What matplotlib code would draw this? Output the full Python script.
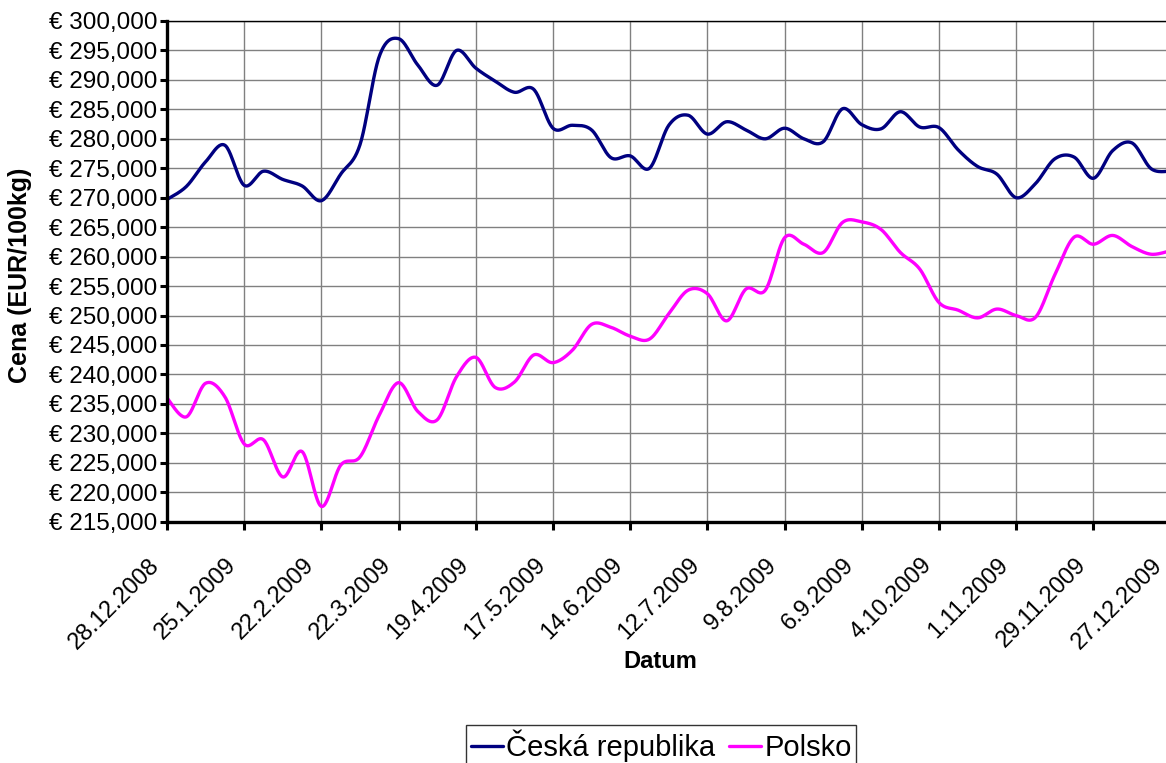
import numpy as np
import pandas as pd
import matplotlib
matplotlib.use('Agg')
import matplotlib.pyplot as plt
import matplotlib.dates as mdates
from matplotlib.ticker import FuncFormatter, FixedLocator
from matplotlib.transforms import ScaledTranslation

plt.rcParams['font.family'] = ['Liberation Sans', 'DejaVu Sans']

# data (weekly)
dates = pd.date_range('2008-12-28', periods=53, freq='7D')
cz = [269700, 271900, 276100, 278900, 272100, 274500, 273100, 272000, 269500, 274000,
      279000, 294000, 297000, 292500, 289100, 295000, 292000, 289800, 287900, 288400,
      281800, 282300, 281500, 276800, 277100, 275000, 282300, 284000, 280800, 282900,
      281500, 280000, 281800, 280000, 279500, 285100, 282400, 281700, 284600, 282000,
      281900, 278100, 275300, 274000, 270000, 272400, 276600, 276900, 273300, 278000,
      279300, 274900, 274500]
pl = [236000, 232800, 238500, 236200, 228200, 228900, 222600, 226900, 217600, 224600,
      226000, 233100, 238600, 233700, 232300, 239600, 242900, 237800, 238700, 243300,
      242000, 244100, 248500, 248000, 246500, 246000, 250300, 254300, 253700, 249100,
      254500, 254300, 263200, 262100, 260700, 265800, 265900, 264600, 260700, 257900,
      252200, 250900, 249600, 251100, 250000, 249700, 256900, 263300, 262100, 263600,
      261700, 260400, 261000]
series_names = ['Česká republika', 'Polsko']
series_colors = ['#000080', '#FF00FF']


def smooth(x, y, n=24):
    # excel-like smoothed line (bezier through the points)
    x = np.asarray(x, float)
    y = np.asarray(y, float)
    px, py = [], []
    t = np.linspace(0, 1, n, endpoint=False)
    for i in range(len(x) - 1):
        i0 = max(i - 1, 0)
        i3 = min(i + 2, len(x) - 1)
        c1x = x[i] + (x[i + 1] - x[i0]) / 6
        c1y = y[i] + (y[i + 1] - y[i0]) / 6
        c2x = x[i + 1] - (x[i3] - x[i]) / 6
        c2y = y[i + 1] - (y[i3] - y[i]) / 6
        a, b, c, d = (1 - t) ** 3, 3 * (1 - t) ** 2 * t, 3 * (1 - t) * t ** 2, t ** 3
        px.append(a * x[i] + b * c1x + c * c2x + d * x[i + 1])
        py.append(a * y[i] + b * c1y + c * c2y + d * y[i + 1])
    px.append([x[-1]])
    py.append([y[-1]])
    return np.concatenate(px), np.concatenate(py)


fig = plt.figure(figsize=(11.66, 7.63), dpi=100)
ax = fig.add_axes([0.14322, 0.31625, 0.86072, 0.65623])

xnum = mdates.date2num(dates)
for vals, name, col in zip([cz, pl], series_names, series_colors):
    sx, sy = smooth(xnum, vals)
    ax.plot(sx, sy, color=col, lw=2.4, label=name, solid_capstyle='round')

ax.set_xlim(xnum[0], xnum[-1])
ax.set_ylim(215000, 300000)
ax.set_yticks(np.arange(215000, 300001, 5000))
ax.yaxis.set_major_formatter(FuncFormatter(lambda v, p: f'€ {v:,.0f}'))
ax.xaxis.set_major_locator(FixedLocator(xnum[::4]))
ax.xaxis.set_major_formatter(FuncFormatter(
    lambda v, p: '{0.day}.{0.month}.{0.year}'.format(mdates.num2date(v))))

ax.grid(True, color='#808080', lw=1.0)
ax.set_axisbelow(True)
for s in ['left', 'bottom']:
    ax.spines[s].set_linewidth(2.4)
ax.spines['top'].set_linewidth(1.0)
ax.spines['right'].set_visible(False)

ax.tick_params(axis='y', direction='out', length=5, width=2.2, pad=2, labelsize=17.5)
ax.tick_params(axis='x', direction='out', length=6, width=2.2, pad=23, labelsize=17)
off = ScaledTranslation(-0.11, 0, fig.dpi_scale_trans)
for lab in ax.get_xticklabels():
    lab.set_rotation(45)
    lab.set_ha('right')
    lab.set_va('center')
    lab.set_rotation_mode('anchor')
    lab.set_transform(lab.get_transform() + off)

ax.set_xlabel('Datum', fontsize=17, fontweight='bold', va='center')
ax.xaxis.set_label_coords(0.4912, -0.2802)
ax.set_ylabel('Cena (EUR/100kg)', fontsize=18, fontweight='bold', va='center')
ax.yaxis.set_label_coords(-0.146, 0.4927)

leg = fig.legend(loc='upper center', bbox_to_anchor=(0.567, 0.0498), ncol=2,
                 fontsize=21, frameon=True, fancybox=False, borderpad=0.15,
                 handlelength=1.1, handletextpad=0.1, columnspacing=0.5,
                 borderaxespad=0)
leg.get_frame().set_edgecolor('black')
leg.get_frame().set_linewidth(1.0)
for line in leg.get_lines():
    line.set_linewidth(2.4)

fig.savefig('out.png', dpi=100)
